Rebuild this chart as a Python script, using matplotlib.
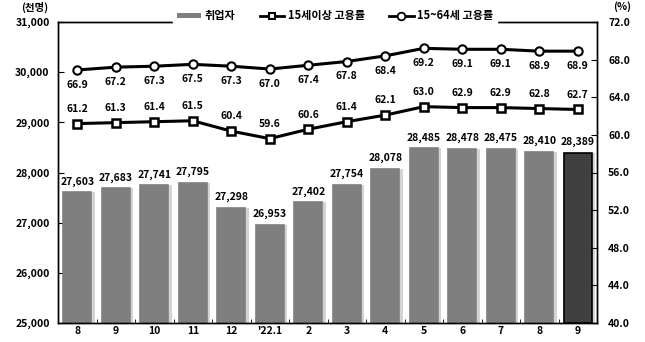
import matplotlib.pyplot as plt
import numpy as np
from matplotlib.lines import Line2D
from matplotlib.patches import Patch

plt.rcParams['font.family'] = ['Noto Sans CJK KR', 'DejaVu Sans']
plt.rcParams['font.weight'] = 'bold'

# 월별 취업자 수 (천명) 및 고용률 (%)
months = ['8', '9', '10', '11', '12', "'22.1", '2', '3', '4', '5', '6', '7', '8', '9']
employed = [27603, 27683, 27741, 27795, 27298, 26953, 27402, 27754, 28078,
            28485, 28478, 28475, 28410, 28389]
rate_15 = [61.2, 61.3, 61.4, 61.5, 60.4, 59.6, 60.6, 61.4, 62.1, 63.0, 62.9, 62.9, 62.8, 62.7]
rate_1564 = [66.9, 67.2, 67.3, 67.5, 67.3, 67.0, 67.4, 67.8, 68.4, 69.2, 69.1, 69.1, 68.9, 68.9]

fig = plt.figure(figsize=(6.45, 3.42), dpi=100)
ax = fig.add_axes([58 / 645, 19 / 342, 539 / 645, 301 / 342])
ax2 = ax.twinx()

x = np.arange(len(months))
bw = 0.72
base = 25000
heights = [v - base for v in employed]

# 막대 그림자
ax.bar(x + 0.09, heights, bw, bottom=base, color='#d4d4d4', zorder=1)
colors = ['#7f7f7f'] * (len(x) - 1) + ['#404040']
edges = ['#7f7f7f'] * (len(x) - 1) + ['black']
ax.bar(x, heights, bw, bottom=base, color=colors, edgecolor=edges, linewidth=1.2, zorder=2)

for xi, v in zip(x, employed):
    ax.annotate(f'{v:,}', (xi, v), xytext=(0, 4), textcoords='offset points',
                ha='center', va='bottom', fontsize=7.5, fontweight='bold')

ax.set_xlim(-0.5, len(x) - 0.5)
ax.set_ylim(25000, 31000)
ax.set_yticks(np.arange(25000, 31001, 1000))
ax.set_yticklabels([f'{v:,}' for v in range(25000, 31001, 1000)], fontsize=7.5)
ax.set_xticks(x)
ax.set_xticklabels(months, fontsize=7.5)
ax.set_xticks(x[:-1] + 0.5, minor=True)
ax.tick_params(axis='x', which='major', length=0, pad=2)
ax.tick_params(axis='x', which='minor', direction='in', length=3)
ax.tick_params(axis='y', direction='in', length=4, pad=6)

# 고용률 선
ax2.plot(x, rate_15, color='black', lw=2.2, marker='s', ms=5.5, mfc='white',
         mec='black', mew=1.8, zorder=5)
ax2.plot(x, rate_1564, color='black', lw=2.2, marker='o', ms=6, mfc='white',
         mec='black', mew=1.5, zorder=5)
for xi, v in zip(x, rate_15):
    ax2.annotate(f'{v:.1f}', (xi, v), xytext=(0, 7), textcoords='offset points',
                 ha='center', va='bottom', fontsize=7.5, fontweight='bold')
for xi, v in zip(x, rate_1564):
    ax2.annotate(f'{v:.1f}', (xi, v), xytext=(0, -7), textcoords='offset points',
                 ha='center', va='top', fontsize=7.5, fontweight='bold')

ax2.set_ylim(40, 72)
ax2.set_yticks(np.arange(40, 72.1, 4))
ax2.set_yticklabels([f'{v:.1f}' for v in np.arange(40, 72.1, 4)], fontsize=7.5)
ax2.tick_params(axis='y', direction='in', length=4, pad=8)

for a in (ax, ax2):
    for s in a.spines.values():
        s.set_linewidth(1.0)

fig.text(35 / 645, 1 - 7 / 342, '(천명)', ha='center', va='center', fontsize=7.5, fontweight='bold')
fig.text(622 / 645, 1 - 7 / 342, '(%)', ha='center', va='center', fontsize=7.5, fontweight='bold')

handles = [
    Patch(facecolor='#7f7f7f', edgecolor='none'),
    Line2D([], [], color='black', lw=2, marker='s', ms=5, mfc='white', mec='black', mew=1.5),
    Line2D([], [], color='black', lw=2, marker='o', ms=5.5, mfc='white', mec='black', mew=1.3),
]
leg = fig.legend(handles, ['취업자', '15세이상 고용률', '15~64세 고용률'],
                 loc='center', bbox_to_anchor=(335 / 645, 1 - 16 / 342), ncol=3,
                 frameon=True, facecolor='white', edgecolor='white', framealpha=1,
                 fontsize=8, handlelength=2.2, handleheight=0.35, handletextpad=0.3,
                 columnspacing=2.2, borderpad=0.3, fancybox=False)

fig.savefig('out.png', dpi=100)
